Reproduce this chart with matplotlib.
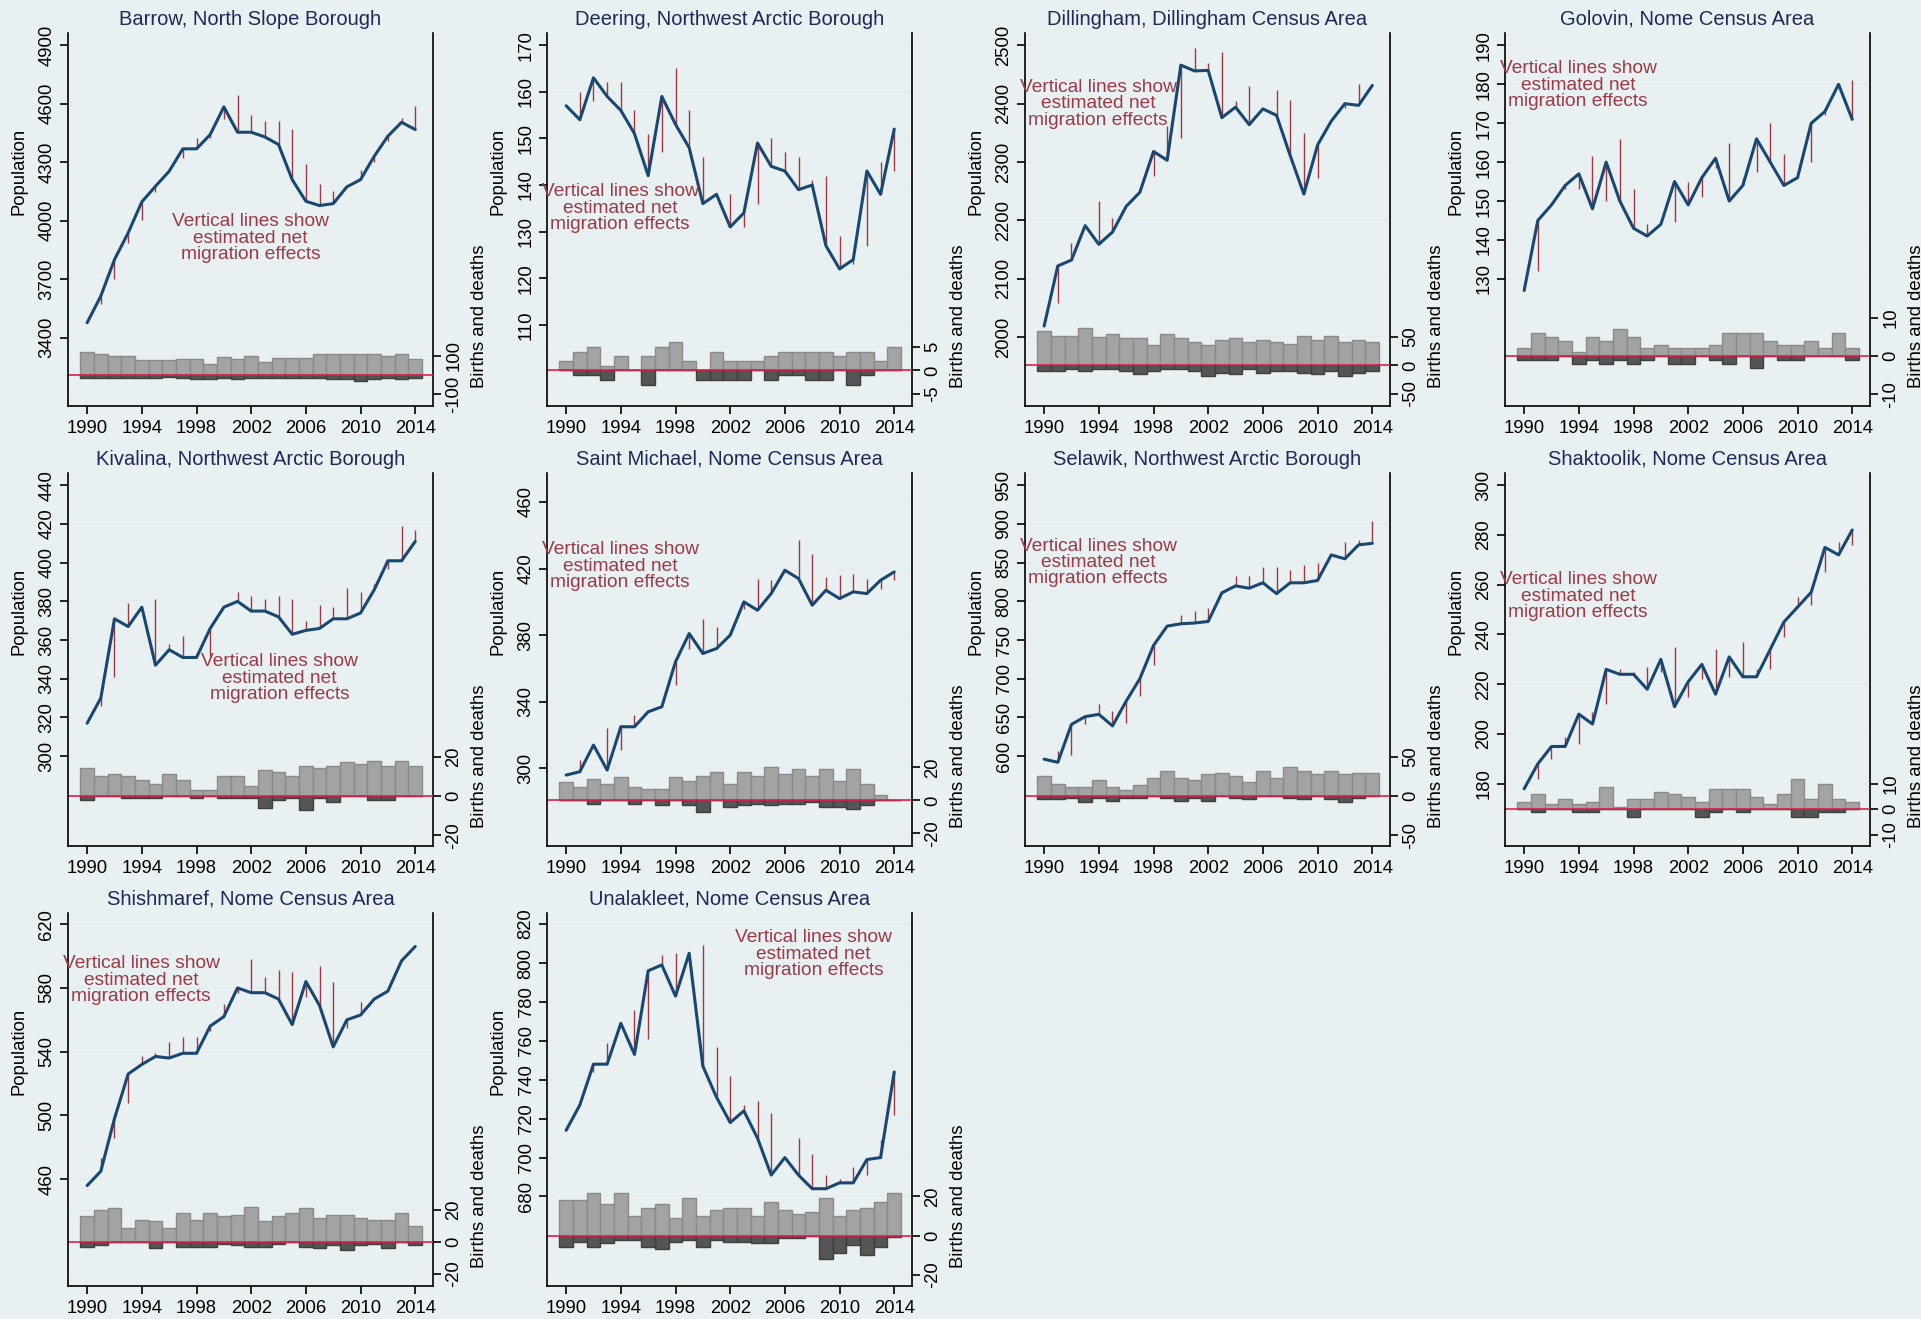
import matplotlib
matplotlib.use('Agg')
import matplotlib.pyplot as plt

plt.rcParams['font.family'] = ['Liberation Sans', 'DejaVu Sans']

years = list(range(1990, 2015))
years_mig = years[1:]  # red lines start in 1991

# Barrow
barrow_pop = [3477, 3614, 3801, 3938, 4097, 4177, 4254, 4369, 4369, 4442, 4584, 4454, 4454,
              4430, 4391, 4211, 4100, 4078, 4088, 4174, 4211, 4331, 4434, 4505, 4468]
barrow_nat = [3571, 3699, 3887, 4006, 4147, 4254, 4322, 4425, 4425, 4522, 4644, 4545,
              4510, 4510, 4471, 4292, 4189, 4155, 4174, 4258, 4300, 4408, 4527, 4587]
barrow_births = [120, 110, 99, 99, 77, 77, 77, 85, 85, 59, 94, 85, 99, 70, 90, 90, 90,
                 108, 108, 108, 108, 108, 99, 108, 85]
barrow_deaths = [14, 14, 14, 14, 14, 14, 10, 17, 23, 23, 17, 23, 14, 14, 14, 14, 14,
                 17, 23, 23, 31, 23, 17, 23, 14]

# Deering
deering_pop = [157, 154, 163, 159, 156, 151, 142, 159, 153, 148, 136, 138, 131, 134, 149,
               144, 143, 139, 140, 127, 122, 124, 143, 138, 152]
deering_nat = [160, 158, 162, 162, 156, 151, 147, 165, 156, 146, 138, 138, 131, 136, 150,
               147, 146, 141, 142, 129, 123, 127, 145, 143]
deering_births = [2, 4, 5, 1, 3, 0, 3, 5, 6, 2, 0, 4, 2, 2, 2, 3, 4, 4, 4, 4, 3, 4, 4, 2, 5]
deering_deaths = [0, 1, 1, 2, 0, 0, 3, 0, 0, 0, 2, 2, 2, 2, 0, 2, 1, 1, 2, 2, 0, 3, 1, 0, 0]

# Dillingham
dillingham_pop = [2019, 2122, 2132, 2191, 2159, 2180, 2224, 2248, 2318, 2303, 2466, 2456,
                  2457, 2376, 2394, 2364, 2391, 2380, 2311, 2245, 2329, 2370, 2400, 2397, 2431]
dillingham_nat = [2059, 2162, 2191, 2233, 2204, 2224, 2252, 2276, 2362, 2341, 2495, 2470,
                  2489, 2404, 2431, 2391, 2423, 2407, 2349, 2273, 2370, 2393, 2433, 2433]
dillingham_births = [60, 51, 51, 65, 49, 54, 48, 48, 35, 54, 47, 41, 35, 44, 47, 41, 44,
                     41, 38, 51, 44, 51, 41, 44, 41]
dillingham_deaths = [10, 10, 7, 10, 7, 7, 10, 16, 10, 7, 7, 10, 19, 13, 16, 7, 13, 10, 10,
                     13, 16, 10, 19, 13, 10]

# Golovin
golovin_pop = [127, 145, 149, 154, 157, 148, 160, 150, 143, 141, 144, 155, 149, 156, 161,
               150, 154, 166, 160, 154, 156, 170, 173, 180, 171]
golovin_nat = [132, 149, 153, 153, 161.5, 150, 166, 153, 144, 144, 144.5, 155, 151, 158.5,
               165, 156, 157.5, 170, 162, 156, 160, 172, 180, 181]
golovin_births = [2, 6, 5, 4, 1, 5, 4, 7, 5, 2, 3, 2, 2, 2, 3, 6, 6, 6, 4, 3, 3, 4, 2, 6, 2]
golovin_deaths = [1, 1, 1, 0, 2, 1, 2, 1, 2, 1, 0, 2, 2, 0, 1, 2, 0, 3, 0, 1, 1, 0, 0, 0, 1]

# Kivalina
kivalina_pop = [317, 330, 371, 367, 377, 347, 355, 351, 351, 366, 377, 380, 375, 375, 372,
                363, 365, 366, 371, 371, 374, 386, 401, 401, 411]
kivalina_nat = [326, 341, 379, 377, 381, 358, 362, 351, 352, 377, 385, 383, 381, 383, 381,
                370, 378, 377, 387, 385, 389, 397, 419, 417]
kivalina_births = [14, 10, 11, 10, 8, 6, 11, 8, 3, 3, 10, 10, 5, 13, 12, 10, 15, 14, 15,
                   17, 16, 18, 15, 18, 15]
kivalina_deaths = [2, 0, 0, 1, 1, 1, 0, 0, 1, 0, 1, 1, 1, 6, 2, 1, 7, 1, 3, 0, 0, 2, 2, 0, 0]

# Saint Michael
stmichael_pop = [296, 298, 314, 299, 325, 325, 334, 337, 364, 381, 369, 372, 380, 400, 395,
                 405, 419, 414, 398, 407, 402, 406, 405, 413, 418]
stmichael_nat = [305, 314, 324, 311, 332, 334, 337, 350, 372, 390, 385, 382, 396, 414, 413,
                 419, 437, 429, 415, 416, 417, 414, 408, 413]
stmichael_births = [11, 8, 13, 10, 14, 8, 7, 7, 14, 12, 15, 17, 10, 17, 15, 20, 16, 19, 15,
                    19, 12, 19, 10, 3, 0]
stmichael_deaths = [0, 0, 2, 0, 0, 2, 0, 3, 0, 3, 7, 0, 4, 3, 2, 3, 2, 2, 1, 4, 4, 5, 3, 0, 0]

# Selawik
selawik_pop = [596, 592, 641, 651, 654, 639, 671, 700, 743, 768, 771, 772, 774, 811, 820,
               817, 824, 810, 824, 824, 827, 860, 855, 873, 875]
selawik_nat = [606, 602, 641, 667, 658, 643, 678, 718, 768, 782, 787, 792, 811, 833, 833,
               845, 845, 841, 847, 850, 860, 877, 879, 904]
selawik_births = [26, 16, 12, 12, 20, 12, 8, 14, 23, 32, 23, 20, 28, 30, 26, 18, 32, 23,
                  37, 32, 28, 32, 28, 30, 30]
selawik_deaths = [4, 4, 2, 8, 2, 6, 2, 2, 0, 2, 6, 2, 6, 0, 2, 4, 0, 0, 2, 4, 0, 4, 8, 2, 0]

# Shaktoolik
shaktoolik_pop = [178, 188, 195, 195, 208, 204, 226, 224, 224, 218, 230, 211, 221, 228, 216,
                  231, 223, 223, 234, 245, 251, 257, 275, 272, 282]
shaktoolik_nat = [182, 190, 199, 196, 209, 212, 226, 225, 227, 225, 235, 215, 222, 234, 223,
                  237, 226, 226, 239, 255, 252, 265, 277, 276]
shaktoolik_births = [3, 6, 2, 4, 2, 3, 9, 1, 4, 4, 7, 6, 5, 3, 8, 8, 8, 5, 2, 6, 12, 4, 10, 4, 3]
shaktoolik_deaths = [0, 1, 0, 0, 1, 1, 0, 0, 3, 0, 0, 0, 0, 3, 1, 0, 1, 0, 0, 0, 3, 3, 1, 1, 0]

# Shishmaref
shishmaref_pop = [456, 465, 498, 526, 532, 537, 536, 539, 539, 556, 562, 580, 577, 577, 573,
                  557, 584, 569, 543, 560, 563, 573, 578, 597, 606]
shishmaref_nat = [473, 486, 508, 537, 539, 546, 549, 549, 553, 570, 577, 598, 587, 591, 590,
                  574, 594, 584, 555, 571, 574, 580, 598, 606]
shishmaref_births = [16, 20, 21, 9, 14, 13, 9, 18, 14, 18, 16, 17, 22, 13, 16, 18, 21, 15,
                     17, 17, 15, 14, 14, 18, 10]
shishmaref_deaths = [3, 2, 0, 0, 0, 4, 0, 3, 3, 3, 1, 2, 3, 3, 1, 0, 3, 4, 2, 5, 2, 1, 4, 0, 2]

# Unalakleet
unalakleet_pop = [714, 727, 748, 748, 769, 753, 796, 799, 783, 805, 747, 731, 718, 724, 710,
                  691, 700, 691, 684, 684, 687, 687, 699, 700, 744]
unalakleet_nat = [727, 744, 759, 769, 776, 761, 804, 805, 804, 809, 757, 742, 727, 729, 723,
                  700, 710, 702, 691, 689, 695, 691, 709, 722]
unalakleet_births = [18, 18, 22, 16, 22, 10, 14, 16, 9, 19, 10, 13, 14, 14, 10, 17, 13, 11,
                     12, 19, 10, 13, 14, 17, 22]
unalakleet_deaths = [6, 3, 6, 4, 2, 2, 6, 7, 3, 2, 6, 2, 3, 3, 4, 4, 1, 1, 0, 12, 9, 5, 10, 6, 0.5]

NOTE = "Vertical lines show\nestimated net\nmigration effects"

# title, pop, nat, births, deaths, left ticks, left lim, right ticks, right lim, note xy
panels = [
    ("Barrow, North Slope Borough", barrow_pop, barrow_nat, barrow_births, barrow_deaths,
     range(3400, 4901, 300), (3050, 4963), [-100, 100], (-162, 1786), (0.50, 0.45)),
    ("Deering, Northwest Arctic Borough", deering_pop, deering_nat, deering_births, deering_deaths,
     range(110, 171, 10), (92.6, 172.6), [-5, 0, 5], (-7.5, 71.3), (0.20, 0.53)),
    ("Dillingham, Dillingham Census Area", dillingham_pop, dillingham_nat, dillingham_births,
     dillingham_deaths, range(2000, 2501, 100), (1882, 2521), [-50, 0, 50], (-71, 580), (0.20, 0.81)),
    ("Golovin, Nome Census Area", golovin_pop, golovin_nat, golovin_births, golovin_deaths,
     range(130, 191, 10), (97.3, 193.2), [-10, 0, 10], (-13, 84.3), (0.20, 0.86)),
    ("Kivalina, Northwest Arctic Borough", kivalina_pop, kivalina_nat, kivalina_births,
     kivalina_deaths, range(300, 441, 20), (253.5, 446.4), [-20, 0, 20], (-25.4, 164), (0.58, 0.45)),
    ("Saint Michael, Nome Census Area", stmichael_pop, stmichael_nat, stmichael_births,
     stmichael_deaths, range(300, 461, 40), (253.4, 477.4), [-20, 0, 20], (-27.7, 198.6), (0.20, 0.75)),
    ("Selawik, Northwest Arctic Borough", selawik_pop, selawik_nat, selawik_births, selawik_deaths,
     range(600, 951, 50), (483.8, 965.9), [-50, 0, 50], (-63.8, 412.8), (0.20, 0.76)),
    ("Shaktoolik, Nome Census Area", shaktoolik_pop, shaktoolik_nat, shaktoolik_births,
     shaktoolik_deaths, range(180, 301, 20), (155, 304.9), [-10, 0, 10], (-14.5, 132.9), (0.20, 0.67)),
    ("Shishmaref, Nome Census Area", shishmaref_pop, shishmaref_nat, shishmaref_births,
     shishmaref_deaths, range(460, 621, 40), (393, 627), [-20, 0, 20], (-27.5, 205.8), (0.20, 0.82)),
    ("Unalakleet, Nome Census Area", unalakleet_pop, unalakleet_nat, unalakleet_births,
     unalakleet_deaths, range(680, 821, 20), (634, 825.7), [-20, 0, 20], (-25.7, 164.6), (0.73, 0.89)),
]

BG = '#E8F0F2'
GRID = '#E4EDF0'
NAVY = '#1A476F'
MAROON = '#9B3A45'
FS = 13.3

W, H = 1921, 1319
fig = plt.figure(figsize=(W / 100, H / 100), dpi=100, facecolor=BG)

col_left = [68, 547, 1025, 1505]
row_top = [33, 473, 913]
ax_w, ax_h = 365, 373

for i, (title, pop, nat, births, deaths, lticks, llim, rticks, rlim, note) in enumerate(panels):
    r, c = divmod(i, 4)
    rect = [col_left[c] / W, 1 - (row_top[r] + ax_h) / H, ax_w / W, ax_h / H]
    ax = fig.add_axes(rect)
    ax2 = ax.twinx()
    # population axis drawn above the bar axis
    ax.set_zorder(ax2.get_zorder() + 1)
    ax.patch.set_visible(False)
    ax2.set_facecolor('white')

    # gridlines for both axes, kept behind the bars
    ax2.set_ylim(*rlim)
    for v in lticks:
        rv = rlim[0] + (v - llim[0]) / (llim[1] - llim[0]) * (rlim[1] - rlim[0])
        ax2.axhline(rv, color=GRID, lw=1.2, zorder=0)
    for v in rticks:
        ax2.axhline(v, color=GRID, lw=1.2, zorder=0)

    # births / deaths bars
    ax2.bar(years, births, width=1.0, color='#A3A3A3', edgecolor='#8A8A8A', linewidth=1.0, zorder=2)
    ax2.bar(years, [-d for d in deaths], width=1.0, color='#555555', edgecolor='#3F3F3F',
            linewidth=1.0, zorder=2)
    ax2.axhline(0, color='#E0204A', lw=1.2, zorder=3)
    ax2.set_yticks(rticks)
    ax2.set_yticklabels([str(t) for t in rticks], rotation=90, va='center', fontsize=FS)
    ax2.set_ylabel("Births and deaths", fontsize=FS, rotation=90)
    ax2.yaxis.set_label_coords(1.103, 0.24)

    # population + net migration
    ax.set_ylim(*llim)
    ax.set_yticks(list(lticks))
    ax.set_yticklabels([str(t) for t in lticks], rotation=90, va='center', fontsize=FS)
    ax.vlines(years_mig, nat, pop[1:], color=MAROON, lw=1.0, zorder=3)
    ax.plot(years, pop, color=NAVY, lw=2.2, zorder=4, solid_capstyle='round')
    ax.set_xlim(1988.6, 2015.3)
    ax.set_xticks(range(1990, 2015, 4))
    ax.tick_params(axis='x', labelsize=FS, length=6, width=1.2, pad=4)
    ax.tick_params(axis='y', length=6, width=1.2, pad=3)
    ax2.tick_params(axis='y', length=6, width=1.2, pad=3)
    ax.set_ylabel("Population", fontsize=FS)
    ax.yaxis.set_label_coords(-0.11, 0.63)
    ax.set_title(title, fontsize=14.5, color='#1E2A55', pad=6)
    ax.text(note[0], note[1], NOTE, transform=ax.transAxes, ha='center', va='center',
            color=MAROON, fontsize=13.8, linespacing=0.95, zorder=5)

    for a in (ax, ax2):
        a.spines['top'].set_visible(False)
    ax.spines['right'].set_visible(False)
    ax2.spines['left'].set_visible(False)
    ax2.spines['bottom'].set_visible(False)
    for s in ('left', 'bottom'):
        ax.spines[s].set_linewidth(1.2)
    ax2.spines['right'].set_linewidth(1.2)

fig.savefig("out.png", dpi=100, facecolor=BG)
